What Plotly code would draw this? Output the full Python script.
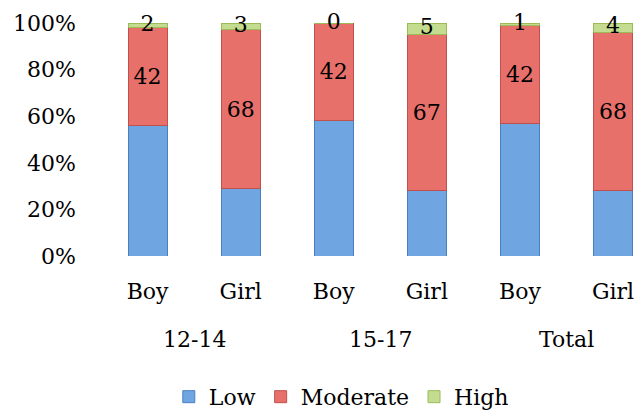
import plotly.graph_objects as go

groups = ["12-14", "15-17", "Total"]
genders = ["Boy", "Girl", "Boy", "Girl", "Boy", "Girl"]
low = [56, 29, 58, 28, 57, 28]
moderate = [42, 68, 42, 67, 42, 68]
high = [2, 3, 0, 5, 1, 4]
y_ticks = [0, 20, 40, 60, 80, 100]
y_ticktext = ["0%", "20%", "40%", "60%", "80%", "100%"]

FONT = "DejaVu Serif"
xpos = list(range(len(genders)))
group_pos = [(2 * i + 2 * i + 1) / 2 for i in range(len(groups))]
high_label_y = [l + m + h / 2 for l, m, h in zip(low, moderate, high)]

fig = go.Figure()
fig.add_trace(go.Bar(x=xpos, y=low, name="Low",
                     marker=dict(color="#6fa5e0", line=dict(color="#4a7fbf", width=1)), width=0.42))
fig.add_trace(go.Bar(x=xpos, y=moderate, name="Moderate", text=[str(v) for v in moderate],
                     textposition="inside", insidetextanchor="middle", constraintext="none", textangle=0,
                     textfont=dict(family=FONT, size=22, color="black"),
                     marker=dict(color="#e8706b", line=dict(color="#c0504d", width=1)), width=0.42))
fig.add_trace(go.Bar(x=xpos, y=high, name="High",
                     marker=dict(color="#c3dc8f", line=dict(color="#9bbb59", width=1)), width=0.42))
fig.add_trace(go.Scatter(x=xpos, y=high_label_y, mode="text", text=[str(v) for v in high],
                         textposition="middle center", textfont=dict(family=FONT, size=22, color="black"),
                         showlegend=False, hoverinfo="skip", cliponaxis=False))

for g, p in zip(groups, group_pos):
    fig.add_annotation(x=p, y=-0.36, xref="x", yref="paper", text=g, showarrow=False,
                       font=dict(family=FONT, size=22, color="black"), yanchor="middle")

fig.update_layout(
    barmode="stack",
    autosize=False,
    width=635, height=410,
    margin=dict(l=101, r=0, t=23, b=154),
    paper_bgcolor="white", plot_bgcolor="white",
    font=dict(family=FONT, size=22, color="black"),
    showlegend=True,
    legend=dict(orientation="h", x=0.45, xanchor="center", xref="paper",
                y=0.032, yanchor="middle", yref="container",
                font=dict(family=FONT, size=22), itemwidth=30, traceorder="normal"),
)
fig.update_xaxes(range=[-0.5, 5.236], tickvals=xpos, ticktext=genders, showgrid=False, zeroline=False,
                 showline=False, ticks="", ticklabelstandoff=20, automargin=False,
                 tickfont=dict(family=FONT, size=22))
fig.update_yaxes(range=[0, 100], tickvals=y_ticks, ticktext=y_ticktext, showgrid=False, showline=False,
                 zeroline=False, ticks="", ticklabelstandoff=24, automargin=False,
                 tickfont=dict(family=FONT, size=22))

fig.write_html("out.html",
               config={"responsive": False, "displayModeBar": False},
               post_script="document.body.style.margin='0';document.documentElement.style.overflow='hidden';document.body.style.overflow='hidden';")
